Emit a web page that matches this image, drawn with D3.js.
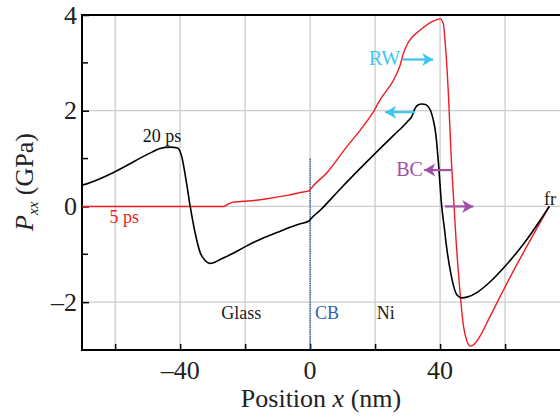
<!DOCTYPE html>
<html>
<head>
<meta charset="utf-8">
<script src="https://cdn.jsdelivr.net/npm/d3@7"></script>
<style>
  html, body { margin: 0; padding: 0; background: #fff; }
  svg { display: block; }
  svg text { font-family: "Liberation Serif", "Times New Roman", Times, serif; }
</style>
</head>
<body>
<div id="chart"></div>
<script>
// stress profile at 20 ps (black)
const pos20 = [-70.2, -65, -60.5, -56, -52.3, -48.5, -46.2, -43.1, -40.8, -39.5, -38.2, -36.9, -35.4, -33.8, -32.3, -31.0, -29.5, -27.7, -24, -20.5, -17, -13.3, -10, -7.2, -3.5, -0.2, 0, 3.1, 9.2, 17.4, 25.6, 29.8, 31.3, 32.3, 33.2, 34.4, 35.5, 36.4, 37.2, 37.9, 38.7, 39.5, 40.5, 41.3, 42.1, 43.3, 44.1, 45.2, 46.7, 48.5, 51.3, 55, 60, 66.7, 73.6];
const p20 = [0.44, 0.57, 0.71, 0.87, 1.01, 1.14, 1.21, 1.24, 1.22, 1.04, 0.56, 0.0, -0.55, -0.97, -1.13, -1.19, -1.17, -1.11, -0.99, -0.86, -0.74, -0.63, -0.54, -0.46, -0.37, -0.30, -0.28, -0.08, 0.36, 0.93, 1.48, 1.76, 1.88, 2.05, 2.12, 2.14, 2.13, 2.08, 1.98, 1.81, 1.5, 0.9, 0.0, -0.45, -0.9, -1.4, -1.65, -1.85, -1.91, -1.89, -1.8, -1.6, -1.25, -0.69, 0.0];

// stress profile at 5 ps (red)
const pos5 = [-70.2, -26.5, -25.5, -23.6, -18, -13.3, -7.2, -3, -0.2, 0, 5.1, 11.3, 15.5, 19.5, 21.5, 23.3, 25.1, 26.5, 27.7, 28.7, 30.3, 33.8, 37.9, 40, 41.0, 41.5, 42.1, 42.6, 43.3, 44.3, 44.9, 45.9, 47.2, 48.2, 49.4, 50.5, 52.3, 55, 58.5, 62, 65.6, 73.6];
const p5 = [0, 0, 0.04, 0.09, 0.12, 0.16, 0.23, 0.29, 0.33, 0.35, 0.70, 1.25, 1.6, 1.98, 2.22, 2.4, 2.57, 2.75, 2.95, 3.2, 3.44, 3.68, 3.87, 3.92, 3.82, 3.47, 2.92, 2.3, 1.2, 0, -0.69, -1.6, -2.5, -2.8, -2.92, -2.88, -2.71, -2.35, -1.88, -1.42, -0.97, 0];

const gridX = [-60, -40, -20, 0, 20, 40, 60];
const xLabels = [-40, 0, 40];
const gridY = [-2, 0, 2];
const yLabels = [-2, 0, 2, 4];
const yMinor = [-1, 1, 3];

const width = 560, height = 419;
const margin = { top: 15, right: 0, bottom: 69, left: 82 };
const serif = "'Liberation Serif', 'Times New Roman', Times, serif";

const x = d3.scaleLinear().domain([-70.2, 76.9]).range([margin.left, width]);
const y = d3.scaleLinear().domain([-3, 4]).range([height - margin.bottom, margin.top]);

const svg = d3.select("#chart").append("svg")
    .attr("width", width)
    .attr("height", height)
    .attr("font-family", serif);

const defs = svg.append("defs");
function marker(id, color) {
    defs.append("marker")
        .attr("id", id)
        .attr("viewBox", "-12 -8 14 16")
        .attr("refX", 0).attr("refY", 0)
        .attr("markerUnits", "userSpaceOnUse")
        .attr("markerWidth", 14).attr("markerHeight", 16)
        .attr("orient", "auto")
        .append("path")
        .attr("d", "M-11,-6.5 L0,0 L-11,6.5 L-8,0 Z")
        .attr("fill", color);
}
marker("cyanHead", "#3cc6ef");
marker("purpleHead", "#a24fa6");

// grid
svg.append("g").selectAll("line").data(gridX).join("line")
    .attr("x1", d => x(d)).attr("x2", d => x(d))
    .attr("y1", y(-3)).attr("y2", y(4))
    .attr("stroke", "#cccccc").attr("stroke-width", 1.3);
svg.append("g").selectAll("line").data(gridY).join("line")
    .attr("x1", x.range()[0]).attr("x2", width)
    .attr("y1", d => y(d)).attr("y2", d => y(d))
    .attr("stroke", "#cccccc").attr("stroke-width", 1.3);

// axes
const xAxis = svg.append("g")
    .attr("transform", `translate(0,${y(-3)})`)
    .call(d3.axisBottom(x).tickValues(gridX).tickSize(-6).tickFormat(""));
xAxis.select(".domain").remove();
xAxis.selectAll(".tick line").attr("stroke", "#000").attr("stroke-width", 1.5);

svg.append("g").selectAll("text").data(xLabels).join("text")
    .attr("x", d => x(d)).attr("y", 379)
    .attr("text-anchor", "middle")
    .attr("font-size", 26)
    .attr("fill", "#222")
    .text(d => d < 0 ? "\u2013" + Math.abs(d) : d);

const yAxis = svg.append("g")
    .attr("transform", `translate(${x.range()[0]},0)`)
    .call(d3.axisLeft(y).tickValues(yLabels).tickSize(-7).tickFormat(""));
yAxis.select(".domain").remove();
yAxis.selectAll(".tick line").attr("stroke", "#000").attr("stroke-width", 1.5);
svg.append("g").selectAll("line").data(yMinor).join("line")
    .attr("x1", x.range()[0]).attr("x2", x.range()[0] + 6)
    .attr("y1", d => y(d)).attr("y2", d => y(d))
    .attr("stroke", "#000").attr("stroke-width", 1.5);

svg.append("g").selectAll("text").data(yLabels).join("text")
    .attr("x", 77).attr("y", d => y(d) + 8.5)
    .attr("text-anchor", "end")
    .attr("font-size", 26)
    .attr("fill", "#222")
    .text(d => d < 0 ? "\u2013" + Math.abs(d) : d);

// frame (left, bottom, top)
svg.append("path")
    .attr("d", `M${width + 2},${y(4)} H${x.range()[0]} V${y(-3)} H${width + 2}`)
    .attr("fill", "none").attr("stroke", "#000").attr("stroke-width", 2);

// coupling boundary
svg.append("line")
    .attr("x1", x(0)).attr("x2", x(0))
    .attr("y1", y(1)).attr("y2", y(-3))
    .attr("stroke", "#2656a8").attr("stroke-width", 1.3)
    .attr("stroke-dasharray", "1.5,0.8");

const line = d3.line().curve(d3.curveMonotoneX);

svg.append("path")
    .attr("d", line(pos5.map((d, i) => [x(d), y(p5[i])])))
    .attr("fill", "none").attr("stroke", "#ee1c25").attr("stroke-width", 1.4);

svg.append("path")
    .attr("d", line(pos20.map((d, i) => [x(d), y(p20[i])])))
    .attr("fill", "none").attr("stroke", "#000").attr("stroke-width", 1.6);

// annotations
function label(t, px, py, color, size, anchor) {
    svg.append("text")
        .attr("x", x(px)).attr("y", y(py))
        .attr("text-anchor", anchor || "start")
        .attr("font-size", size)
        .attr("fill", color)
        .text(t);
}
label("20 ps", -45.6, 1.35, "#111", 18, "middle");
label("5 ps", -57.2, -0.34, "#ee1c25", 18, "middle");
label("Glass", -21.2, -2.36, "#222", 18, "middle");
label("CB", 1.5, -2.36, "#2a62b0", 18);
label("Ni", 20.5, -2.36, "#222", 18);
label("RW", 27.7, 2.95, "#3cc6ef", 20, "end");
label("BC", 34.7, 0.63, "#a24fa6", 20, "end");
label("fr", 72, 0.04, "#111", 18);

function arrow(x1, x2, yv, color, id) {
    svg.append("line")
        .attr("x1", x(x1)).attr("x2", x(x2))
        .attr("y1", y(yv)).attr("y2", y(yv))
        .attr("stroke", color).attr("stroke-width", 2.2)
        .attr("marker-end", `url(#${id})`);
}
arrow(28.5, 37.9, 3.07, "#3cc6ef", "cyanHead");
arrow(32.3, 23.1, 1.97, "#3cc6ef", "cyanHead");
arrow(43.6, 35.1, 0.76, "#a24fa6", "purpleHead");
arrow(41.5, 50.2, 0.0, "#a24fa6", "purpleHead");

// axis titles
svg.append("text")
    .attr("x", 321).attr("y", 407)
    .attr("text-anchor", "middle")
    .attr("font-size", 26)
    .attr("fill", "#222")
    .call(t => {
        t.append("tspan").text("Position ");
        t.append("tspan").attr("font-style", "italic").text("x");
        t.append("tspan").text(" (nm)");
    });

svg.append("text")
    .attr("transform", "translate(33,182) rotate(-90)")
    .attr("text-anchor", "middle")
    .attr("font-size", 26)
    .attr("fill", "#222")
    .call(t => {
        t.append("tspan").attr("font-style", "italic").text("P");
        t.append("tspan").attr("font-style", "italic").attr("font-size", 15).attr("dy", 5).text("xx");
        t.append("tspan").attr("dy", -5).text(" (GPa)");
    });
</script>
</body>
</html>
